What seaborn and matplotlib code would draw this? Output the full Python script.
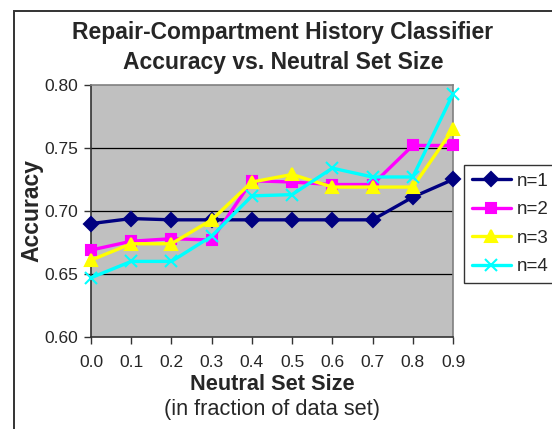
import matplotlib
matplotlib.use("Agg")
import matplotlib.pyplot as plt
import matplotlib.patches as mpatches
import numpy as np
import pandas as pd
import seaborn as sns

# Neutral set size (fraction of data set)
neutral_size = [0.0, 0.1, 0.2, 0.3, 0.4, 0.5, 0.6, 0.7, 0.8, 0.9]

# Classifier accuracy for each history length n
acc_n1 = [0.690, 0.694, 0.693, 0.693, 0.693, 0.693, 0.693, 0.693, 0.711, 0.725]
acc_n2 = [0.669, 0.676, 0.678, 0.677, 0.724, 0.723, 0.721, 0.721, 0.752, 0.752]
acc_n3 = [0.661, 0.674, 0.674, 0.693, 0.723, 0.729, 0.719, 0.719, 0.719, 0.765]
acc_n4 = [0.647, 0.660, 0.660, 0.680, 0.712, 0.713, 0.734, 0.727, 0.727, 0.793]

series_names = ["n=1", "n=2", "n=3", "n=4"]
series_colors = ["#000080", "#FF00FF", "#FFFF00", "#00FFFF"]
series_markers = ["D", "s", "^", "x"]

y_ticks = [0.60, 0.65, 0.70, 0.75, 0.80]
x_tick_labels = ["0.0", "0.1", "0.2", "0.3", "0.4", "0.5", "0.6", "0.7", "0.8", "0.9"]

df = pd.DataFrame({
    "size": neutral_size * 4,
    "accuracy": acc_n1 + acc_n2 + acc_n3 + acc_n4,
    "series": [s for s in series_names for _ in neutral_size],
})

sns.set_style("white")
plt.rcParams["font.family"] = ["Liberation Sans", "DejaVu Sans"]

fig = plt.figure(figsize=(5.52, 4.29), dpi=100)
W, H = 552, 429
ax = fig.add_axes([91 / W, 1 - 337 / H, (453 - 91) / W, (337 - 85) / H])
ax.set_facecolor("#C0C0C0")

# outer chart border (runs off the right and bottom edges)
fig.patches.append(mpatches.Rectangle((14 / W, -0.1), 1.2, 1 - 11 / H + 0.1,
                                      transform=fig.transFigure, fill=False,
                                      edgecolor="#333333", linewidth=1.4))

for y in [0.65, 0.70, 0.75]:
    ax.axhline(y, color="black", linewidth=0.9, zorder=1)

marker_sizes = {"D": 7, "s": 7.5, "^": 8.5, "x": 8}
for name, color, marker in zip(series_names, series_colors, series_markers):
    sub = df[df["series"] == name]
    sns.lineplot(data=sub, x="size", y="accuracy", color=color, marker=marker,
                 linewidth=2.4, markersize=marker_sizes[marker],
                 markeredgecolor=color, markerfacecolor=color,
                 markeredgewidth=1.5, ax=ax, zorder=3, clip_on=False)

ax.set_xlim(0.0, 0.9)
ax.set_ylim(0.60, 0.80)
ax.set_xticks(neutral_size)
ax.set_xticklabels(x_tick_labels)
ax.set_yticks(y_ticks)
ax.set_yticklabels([f"{v:.2f}" for v in y_ticks])
ax.tick_params(axis="both", direction="out", length=5, width=1, color="#333333",
               labelsize=12.5, pad=4, left=True, bottom=True)
ax.tick_params(axis="x", pad=8)

for side in ["top", "right"]:
    ax.spines[side].set_color("#808080")
    ax.spines[side].set_linewidth(1.2)
for side in ["left", "bottom"]:
    ax.spines[side].set_color("#333333")
    ax.spines[side].set_linewidth(1.2)

ax.set_xlabel("")
ax.set_ylabel("")
fig.text(32 / W, 1 - 210 / H, "Accuracy", rotation=90, ha="center", va="center",
         fontsize=16.5, fontweight="bold")

fig.text(283 / W, 1 - 32 / H, "Repair-Compartment History Classifier",
         ha="center", va="center", fontsize=16.5, fontweight="bold")
fig.text(283 / W, 1 - 62 / H, "Accuracy vs. Neutral Set Size",
         ha="center", va="center", fontsize=16.5, fontweight="bold")
fig.text(272 / W, 1 - 384 / H, "Neutral Set Size", ha="center", va="center",
         fontsize=15.7, fontweight="bold")
fig.text(272 / W, 1 - 410 / H, "(in fraction of data set)", ha="center", va="center",
         fontsize=15.7)

handles = [plt.Line2D([], [], color=c, marker=m, linewidth=2.4,
                      markersize=marker_sizes[m], markeredgecolor=c,
                      markeredgewidth=1.5)
           for c, m in zip(series_colors, series_markers)]
leg = fig.legend(handles, series_names, loc="upper left",
                 bbox_to_anchor=(464 / W, 1 - 165 / H), frameon=True,
                 fancybox=False, edgecolor="black", fontsize=13.5,
                 handlelength=2.08, handletextpad=0.32, labelspacing=0.6,
                 borderpad=0.42, borderaxespad=0)
leg.get_frame().set_linewidth(1.0)

fig.savefig("out.png", dpi=100)
